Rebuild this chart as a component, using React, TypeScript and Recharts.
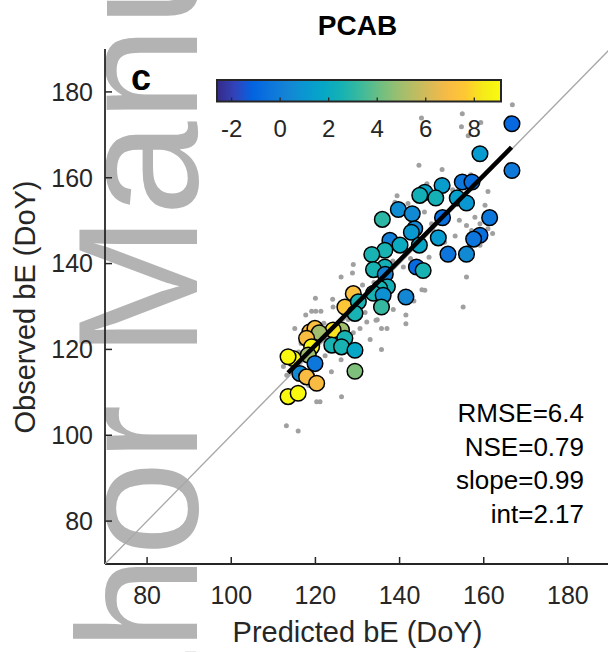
import React from "react";
import { ScatterChart, Scatter, XAxis, YAxis } from "recharts";

const xTicks = [80, 100, 120, 140, 160, 180];
const yTicks = [80, 100, 120, 140, 160, 180];
const cbarTicks = [-2, 0, 2, 4, 6, 8];
const cRange = [-2.6, 9.1];

// [predicted, observed, colour value]
const sites: [number, number, number][] = [
  [166.7, 172.6, -0.9], [159.1, 165.6, 1.2], [166.7, 161.7, -0.2], [150.1, 158.2, 1.3],
  [154.9, 159.0, -0.3], [157.2, 159.0, -0.7], [146.0, 156.6, 1.6], [144.8, 155.9, 2.4],
  [148.6, 155.3, 2.5], [153.7, 155.3, 1.4], [155.9, 154.1, 1.0], [139.7, 152.6, 0.6],
  [143.0, 151.6, 0.5], [135.9, 150.3, 3.0], [150.2, 150.7, -0.6], [161.4, 150.7, -0.3],
  [143.6, 148.1, 0.4], [142.8, 147.3, 1.1], [149.2, 146.0, 1.2], [159.1, 146.6, -0.6],
  [157.6, 145.7, -0.4], [137.7, 145.4, 0.0], [140.1, 144.3, 2.0], [136.5, 143.1, 2.6],
  [144.7, 144.3, 1.8], [151.5, 142.2, -0.4], [155.9, 142.2, 0.5], [144.0, 139.2, -0.8],
  [145.6, 138.4, 2.6], [136.5, 139.2, 2.4], [133.4, 142.1, 2.6], [133.8, 138.6, 2.6],
  [136.6, 137.5, 0.2], [137.1, 134.6, 2.4], [135.3, 134.2, 2.6], [133.8, 133.1, 2.6],
  [136.1, 132.6, 0.8], [135.7, 129.9, 3.2], [141.5, 132.2, 0.4], [129.0, 133.0, 7.2],
  [127.0, 129.9, 7.5], [130.2, 131.1, 2.6], [129.4, 128.4, 2.6], [126.2, 124.5, 5.0],
  [124.2, 124.5, 8.2], [118.7, 124.1, 7.0], [119.9, 124.9, 7.2], [120.9, 123.9, 5.0],
  [117.9, 122.6, 7.0], [127.0, 122.6, 2.6], [123.9, 121.0, 2.6], [126.2, 120.6, 2.6],
  [129.4, 119.8, 1.8], [119.1, 120.6, 8.8], [118.3, 118.7, 5.0], [114.7, 117.9, 9.0],
  [113.5, 118.3, 9.0], [119.9, 116.7, -0.3], [116.3, 114.4, 0.5], [117.9, 113.6, 7.0],
  [120.3, 112.1, 7.0], [129.4, 114.9, 4.4], [113.5, 109.0, 9.0], [115.9, 109.8, 9.0],
];

// all-site observations behind the coloured means
const bgPoints: [number, number][] = [
  [166.8, 177.0], [145.2, 173.9], [154.9, 174.9], [154.7, 171.9], [159.3, 172.9], [156.3, 169.8],
  [144.6, 162.9], [150.1, 161.9], [161.0, 156.8], [156.9, 160.7], [139.4, 155.8], [138.9, 154.3],
  [142.0, 154.0], [146.5, 158.6], [152.6, 157.2], [154.2, 150.1], [157.9, 150.8], [155.9, 148.9],
  [159.1, 149.3], [161.0, 148.1], [162.1, 147.0], [157.1, 147.7], [147.6, 149.3], [148.0, 147.7],
  [159.1, 144.3], [156.6, 144.1], [155.9, 136.9], [155.1, 129.9], [146.0, 133.8], [140.9, 139.2],
  [141.5, 128.0], [141.5, 126.0], [145.3, 133.9], [137.8, 135.6], [142.6, 141.2], [138.4, 140.6],
  [147.0, 141.5], [150.7, 145.0], [153.2, 146.4], [160.3, 153.6], [145.9, 152.0], [129.0, 139.8],
  [128.8, 137.8], [126.1, 136.9], [120.0, 131.9], [117.7, 128.0], [119.1, 128.9], [120.1, 128.9],
  [121.3, 128.9], [115.1, 124.9], [124.2, 129.9], [129.0, 123.9], [130.6, 124.9], [132.2, 126.4],
  [135.7, 124.9], [134.4, 126.8], [135.7, 120.0], [123.8, 114.8], [113.2, 114.0], [112.4, 116.0],
  [112.8, 110.1], [126.2, 109.0], [120.3, 107.8], [121.1, 107.8], [113.1, 102.2], [115.9, 101.0],
  [134.7, 126.9], [137.0, 124.9], [124.1, 131.7], [131.8, 128.6], [133.0, 122.3], [126.1, 117.6],
  [122.3, 118.5], [116.6, 121.4], [133.9, 135.6], [131.2, 135.0], [138.5, 129.3], [143.4, 131.3],
  [122.0, 126.1], [127.8, 127.0], [118.4, 111.6], [116.0, 119.4],
];

const stats = ["RMSE=6.4", "NSE=0.79", "slope=0.99", "int=2.17"];
const fitX = [113.5, 166.6];
const slope = 0.99;
const intercept = 2.17;
const oneToOne = [70, 190];

// MATLAB parula, every 4th of 64
const PARULA = [
  [0.2081, 0.1663, 0.5292], [0.1959, 0.2645, 0.7279], [0.0117, 0.3875, 0.882], [0.0498, 0.4586, 0.8641],
  [0.0793, 0.52, 0.8312], [0.0343, 0.5966, 0.8199], [0.0228, 0.6535, 0.7768], [0.0843, 0.6928, 0.7062],
  [0.2178, 0.725, 0.6193], [0.3953, 0.7459, 0.5244], [0.5709, 0.7485, 0.4494], [0.7184, 0.7411, 0.3905],
  [0.8507, 0.7299, 0.336], [0.9739, 0.7314, 0.2666], [0.9955, 0.7861, 0.1967], [0.9598, 0.9218, 0.0948],
  [0.9763, 0.9831, 0.0538],
];

const toHex = (c: number[]) =>
  "#" + c.map((v) => Math.round(v * 255).toString(16).padStart(2, "0")).join("");

function parula(z: number) {
  let t = (z - cRange[0]) / (cRange[1] - cRange[0]);
  t = Math.max(0, Math.min(1, t)) * (PARULA.length - 1);
  const i = Math.min(Math.floor(t), PARULA.length - 2);
  const f = t - i;
  const a = PARULA[i];
  const b = PARULA[i + 1];
  return toHex(a.map((v, k) => v + (b[k] - v) * f));
}

const siteData = sites.map(([x, y, z]) => ({ x, y, z }));
const bgData = bgPoints.map(([x, y]) => ({ x, y }));
const fitData = fitX.map((x) => ({ x, y: slope * x + intercept }));
const diagData = oneToOne.map((v) => ({ x: v, y: v }));

const FONT = "'Liberation Sans', Arial, sans-serif";
const AX = "#262626";
const tickStyle = { fill: AX, fontSize: 25, fontFamily: FONT };

const CB = { x: 217, y: 80, w: 284, h: 21.5 };

export default function App() {
  const cbX = (v: number) => CB.x + ((v - cRange[0]) / (cRange[1] - cRange[0])) * CB.w;
  return (
    <div style={{ position: "absolute", left: 0, top: 0, width: 608, height: 652, overflow: "hidden", background: "#fff" }}>
      <svg width={608} height={652} style={{ position: "absolute", left: 0, top: 0 }}>
        <text
          transform="translate(196.7,905.6) rotate(-90)"
          fontSize={170}
          fontFamily={FONT}
          fill="#b3b3b3"
        >
          Author Manuscript
        </text>
      </svg>
      <div style={{ position: "absolute", left: 0, top: 0 }}>
        <ScatterChart width={640} height={652} margin={{ top: 49, right: 30, bottom: 28, left: 0 }}>
          <XAxis
            xAxisId="b"
            type="number"
            dataKey="x"
            domain={[70, 190]}
            ticks={xTicks}
            allowDataOverflow
            height={60}
            tickSize={-7}
            tickMargin={29}
            tick={tickStyle}
            axisLine={{ stroke: AX, strokeWidth: 1.8 }}
            tickLine={{ stroke: AX, strokeWidth: 1.5 }}
          />
          <XAxis
            xAxisId="t"
            orientation="top"
            type="number"
            dataKey="x"
            domain={[70, 190]}
            ticks={xTicks}
            allowDataOverflow
            height={0}
            tickSize={-7}
            tick={false}
            axisLine={{ stroke: AX, strokeWidth: 1.8 }}
            tickLine={{ stroke: AX, strokeWidth: 1.5 }}
          />
          <YAxis
            yAxisId="l"
            type="number"
            dataKey="y"
            domain={[70, 190]}
            ticks={yTicks}
            allowDataOverflow
            width={105}
            tickSize={-7}
            tickMargin={19}
            tick={tickStyle}
            axisLine={{ stroke: AX, strokeWidth: 1.8 }}
            tickLine={{ stroke: AX, strokeWidth: 1.5 }}
          />
          <YAxis
            yAxisId="r"
            orientation="right"
            type="number"
            dataKey="y"
            domain={[70, 190]}
            ticks={yTicks}
            allowDataOverflow
            width={0}
            tickSize={-7}
            tick={false}
            axisLine={{ stroke: AX, strokeWidth: 1.8 }}
            tickLine={{ stroke: AX, strokeWidth: 1.5 }}
          />
          <Scatter
            xAxisId="b"
            yAxisId="l"
            data={diagData}
            line={{ stroke: "#a8a8a8", strokeWidth: 1.3 }}
            shape={() => <g />}
            isAnimationActive={false}
          />
          <Scatter
            xAxisId="b"
            yAxisId="l"
            data={bgData}
            shape={(p: any) => <circle cx={p.cx} cy={p.cy} r={2.5} fill="#a0a0a0" />}
            isAnimationActive={false}
          />
          <Scatter
            xAxisId="b"
            yAxisId="l"
            data={siteData}
            shape={(p: any) => (
              <circle cx={p.cx} cy={p.cy} r={7.8} fill={parula(p.payload.z)} stroke="#000" strokeWidth={1.5} />
            )}
            isAnimationActive={false}
          />
          <Scatter
            xAxisId="b"
            yAxisId="l"
            data={fitData}
            line={{ stroke: "#000", strokeWidth: 4.5 }}
            shape={() => <g />}
            isAnimationActive={false}
          />
        </ScatterChart>
      </div>
      <svg width={608} height={652} style={{ position: "absolute", left: 0, top: 0, pointerEvents: "none" }}>
        <defs>
          <linearGradient id="parulaGrad" x1="0" x2="1" y1="0" y2="0">
            {PARULA.map((c, i) => (
              <stop key={i} offset={i / (PARULA.length - 1)} stopColor={toHex(c)} />
            ))}
          </linearGradient>
        </defs>
        <rect x={CB.x} y={CB.y} width={CB.w} height={CB.h} fill="url(#parulaGrad)" stroke={AX} strokeWidth={2} />
        {cbarTicks.map((t) => (
          <g key={t}>
            <line x1={cbX(t)} x2={cbX(t)} y1={CB.y + CB.h} y2={CB.y + CB.h - 4} stroke={AX} strokeWidth={1.3} />
            <text x={cbX(t)} y={137} textAnchor="middle" fontSize={24} fontFamily={FONT} fill={AX}>
              {t}
            </text>
          </g>
        ))}
        <text x={357.5} y={35} textAnchor="middle" fontSize={28} fontWeight="bold" fontFamily={FONT} fill="#000">
          PCAB
        </text>
        <text x={131} y={90} fontSize={36} fontWeight="bold" fontFamily={FONT} fill="#000">
          c
        </text>
        {stats.map((s, i) => (
          <text key={s} x={584} y={422 + i * 33.7} textAnchor="end" fontSize={26} fontFamily={FONT} fill="#000">
            {s}
          </text>
        ))}
        <text x={357.5} y={642} textAnchor="middle" fontSize={29} fontFamily={FONT} fill={AX}>
          Predicted bE (DoY)
        </text>
        <text transform="translate(35,307) rotate(-90)" textAnchor="middle" fontSize={29} fontFamily={FONT} fill={AX}>
          Observed bE (DoY)
        </text>
      </svg>
    </div>
  );
}
